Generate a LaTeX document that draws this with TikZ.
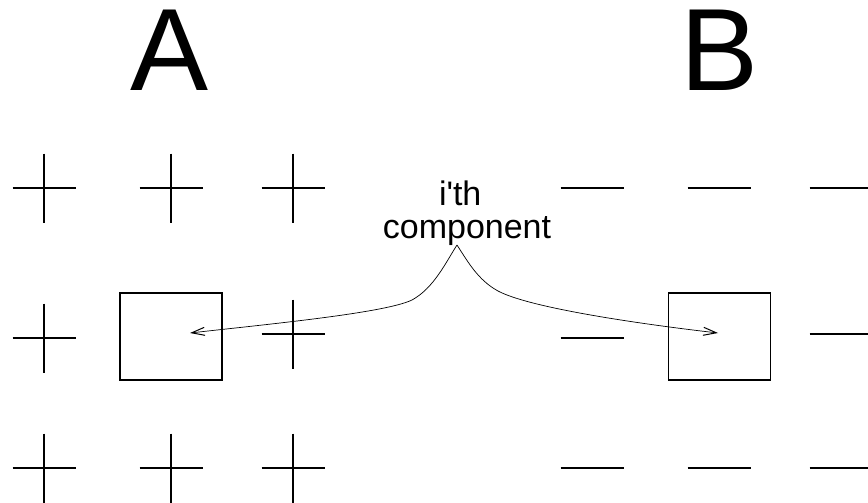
\documentclass[tikz,border=0pt]{standalone}
\usepackage{fontspec}
\setmainfont{Liberation Sans}
\usetikzlibrary{arrows.meta}
\begin{document}
\begin{tikzpicture}[x=1pt,y=-1pt,
  signline/.style={line width=1.3pt},
  cellbox/.style={draw,line width=1.3pt,minimum width=102pt,minimum height=87pt,inner sep=0pt},
  bigletter/.style={font=\fontsize{117}{117}\selectfont,inner sep=0pt,anchor=base},
  caption/.style={font=\fontsize{34}{33}\selectfont,inner sep=0pt,align=center},
  pointer/.style={line width=0.7pt,-{Straight Barb[length=13pt,width=8pt,line width=1pt]}},
  plussign/.pic={\draw[signline] (-31.5,0) -- (31.5,0) (0,-34.5) -- (0,34.5);},
  minussign/.pic={\draw[signline] (-31.5,0) -- (31.5,0);}
]
\useasboundingbox (0,0) rectangle (868,503);

% headings
\node[bigletter] (hA) at (170,91) {A};
\node[bigletter] (hB) at (720,91) {B};

% field A: plus signs
\foreach \x/\y in {44/188, 171/188, 293/188, 44/338, 293/334, 44/468, 171/468, 293/468}
  \pic at (\x,\y) {plussign};
% field B: minus signs
\foreach \x/\y in {592/188, 719/188, 841/188, 592/338, 841/334, 592/468, 719/468, 841/468}
  \pic at (\x,\y) {minussign};

% selected cells
\node[cellbox] (boxA) at (171,336.5) {};
\node[cellbox] (boxB) at (719.5,336.5) {};

% label, two lines (base anchor sits on the last line)
\node[caption,anchor=base] (lbl) at (467,238)
  {\makebox[56pt][l]{i\textquotesingle th}\\component};

% pointers from the label to both cells
\coordinate (peak) at (457,245);
\coordinate (tipA) at (190,333);
\coordinate (tipB) at (718,333);
\draw[pointer] (peak) .. controls (446,262) and (434,288) .. (412,300)
  .. controls (385,313) and (270,324) .. (tipA);
\draw[pointer] (peak) .. controls (468,262) and (478,280) .. (498,291)
  .. controls (530,308) and (640,324) .. (tipB);
\end{tikzpicture}
\end{document}
